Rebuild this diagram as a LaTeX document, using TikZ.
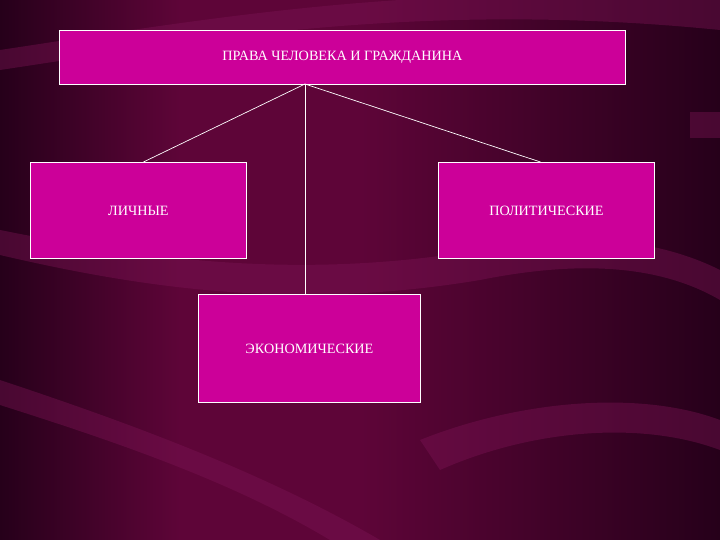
\documentclass[tikz,border=0pt]{standalone}
\usepackage{fontspec}
\setmainfont{Liberation Serif}
\usetikzlibrary{positioning}

\definecolor{bgdark}{HTML}{26001A}
\definecolor{bgmid}{HTML}{5E0538}
\definecolor{swirl}{HTML}{7E1456}
\definecolor{boxfill}{HTML}{CC0099}

\tikzset{
  rightsbox/.style={draw=white, line width=0.9pt, fill=boxfill, text=white,
    font=\fontsize{14.2}{16}\selectfont, inner sep=0pt, anchor=north west},
  link/.style={draw=white, line width=0.7pt}
}

\begin{document}
\begin{tikzpicture}[x=1pt, y=-1pt]
% background
\useasboundingbox (0,0) rectangle (720,540);
\shade[left color=bgdark, right color=bgmid, middle color=bgmid] (0,0) rectangle (360,540);
\shade[left color=bgmid, right color=bgdark] (360,0) rectangle (720,540);
\begin{scope}[fill=swirl, opacity=0.4]
  \fill (0,70) .. controls (200,40) and (420,0) .. (720,30) -- (720,0) .. controls (420,-20) and (200,20) .. (0,50) -- cycle;
  \fill (0,230) .. controls (150,260) and (300,280) .. (480,250) .. controls (580,230) and (660,240) .. (720,270)
        -- (720,300) .. controls (660,265) and (580,260) .. (480,280) .. controls (300,310) and (150,290) .. (0,255) -- cycle;
  \fill (0,380) .. controls (120,420) and (260,470) .. (380,540) -- (330,540) .. controls (230,480) and (110,440) .. (0,405) -- cycle;
  \fill (420,440) .. controls (520,400) and (640,390) .. (720,420) -- (720,450) .. controls (640,420) and (530,430) .. (440,470) -- cycle;
  \fill (690,112) rectangle (720,138);
\end{scope}

% boxes
\node[rightsbox, minimum width=566, minimum height=54] (prava) at (59,30) {ПРАВА ЧЕЛОВЕКА И ГРАЖДАНИНА};
\node[rightsbox, minimum width=216, minimum height=96] (lichnye) at (30,162) {ЛИЧНЫЕ};
\node[rightsbox, minimum width=216, minimum height=96] (polit) at (438,162) {ПОЛИТИЧЕСКИЕ};
\node[rightsbox, minimum width=222, minimum height=108] (econ) at (198,294) {ЭКОНОМИЧЕСКИЕ};

% connectors
\coordinate (hub) at (305,84);
\path[link] (hub) -- ([xshift=5]lichnye.north);
\path[link] (hub) -- ([xshift=-6]polit.north);
\path[link] (hub) -- (hub |- econ.north);
\end{tikzpicture}
\end{document}
